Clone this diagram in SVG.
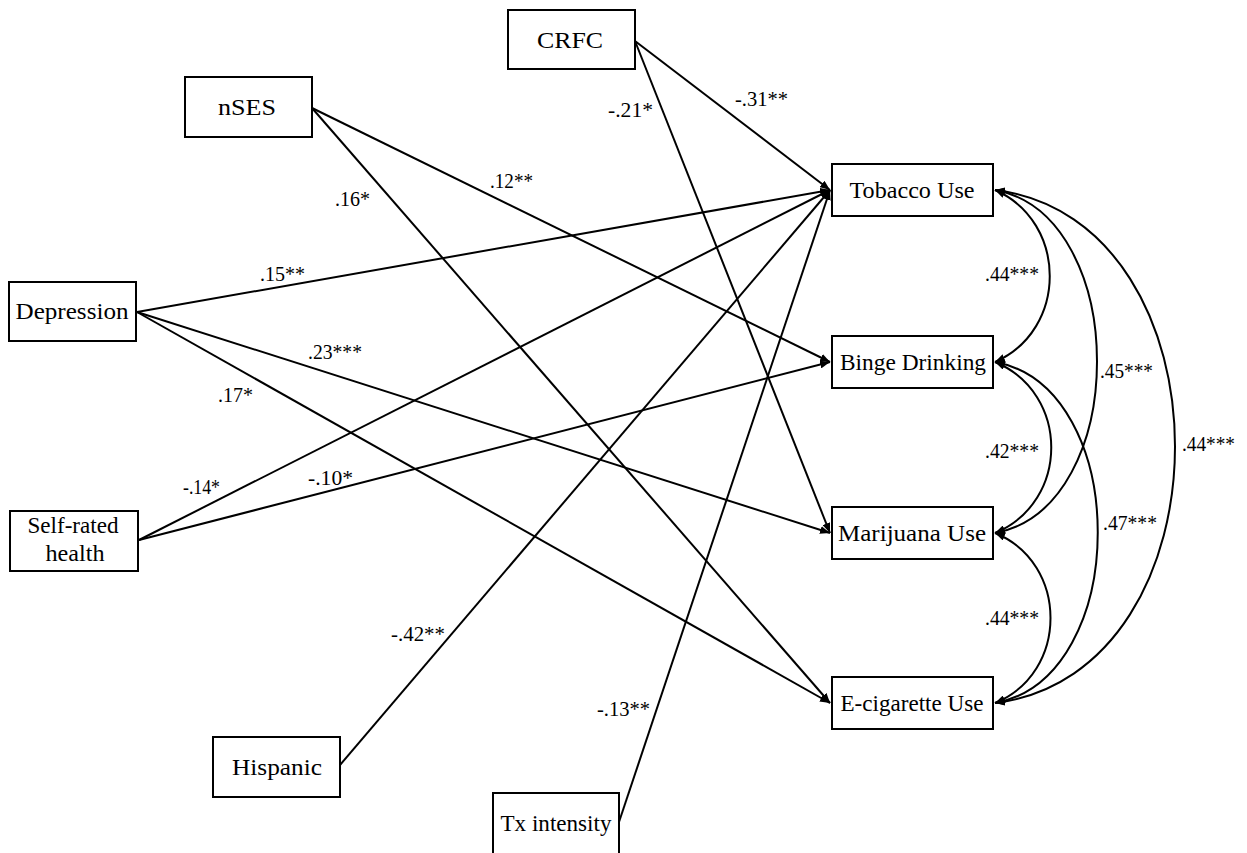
<svg xmlns="http://www.w3.org/2000/svg" width="1247" height="853" viewBox="0 0 1247 853">
<style>
.box{fill:#fff;stroke:#000;stroke-width:2}
.nt{font-family:"Liberation Serif","DejaVu Serif",serif;font-size:23px;fill:#000;text-anchor:middle}
.lb{font-family:"Liberation Serif","DejaVu Serif",serif;font-size:22px;fill:#000}
.ln{fill:none;stroke:#000;stroke-width:2}
</style>
<defs>
<marker id="ah" viewBox="0 0 10 8" refX="10" refY="4" markerWidth="10" markerHeight="8" markerUnits="userSpaceOnUse" orient="auto-start-reverse">
<path d="M0,0 L10,4 L0,8 z" fill="#000"/>
</marker>
</defs>
<rect width="1247" height="853" fill="#fff"/>
<g id="connectors">
<line class="ln" x1="312" y1="108" x2="830" y2="362" marker-end="url(#ah)"/>
<line class="ln" x1="312" y1="108" x2="830" y2="703" marker-end="url(#ah)"/>
<line class="ln" x1="635" y1="41" x2="830" y2="190" marker-end="url(#ah)"/>
<line class="ln" x1="635" y1="41" x2="830" y2="533" marker-end="url(#ah)"/>
<line class="ln" x1="137" y1="312" x2="830" y2="190" marker-end="url(#ah)"/>
<line class="ln" x1="137" y1="312" x2="830" y2="533" marker-end="url(#ah)"/>
<line class="ln" x1="137" y1="312" x2="830" y2="703" marker-end="url(#ah)"/>
<line class="ln" x1="139" y1="540" x2="830" y2="190" marker-end="url(#ah)"/>
<line class="ln" x1="139" y1="540" x2="830" y2="362" marker-end="url(#ah)"/>
<line class="ln" x1="340" y1="765" x2="830" y2="190" marker-end="url(#ah)"/>
<line class="ln" x1="619" y1="822" x2="830" y2="190" marker-end="url(#ah)"/>
<path class="ln" d="M995,190 C1068,222 1068,330 995,362" marker-start="url(#ah)" marker-end="url(#ah)"/>
<path class="ln" d="M995,362 C1070,393 1070,502 995,533" marker-start="url(#ah)" marker-end="url(#ah)"/>
<path class="ln" d="M995,533 C1069,563 1069,673 995,703" marker-start="url(#ah)" marker-end="url(#ah)"/>
<path class="ln" d="M995,190 C1131,215 1131,508 995,533" marker-start="url(#ah)" marker-end="url(#ah)"/>
<path class="ln" d="M995,362 C1132,387 1132,678 995,703" marker-start="url(#ah)" marker-end="url(#ah)"/>
<path class="ln" d="M995,190 C1235,220 1235,673 995,703" marker-start="url(#ah)" marker-end="url(#ah)"/>
</g>
<g id="labels">
<text class="lb" x="490" y="188" textLength="43" lengthAdjust="spacingAndGlyphs">.12**</text>
<text class="lb" x="335" y="206" textLength="35" lengthAdjust="spacingAndGlyphs">.16*</text>
<text class="lb" x="735" y="106" textLength="53" lengthAdjust="spacingAndGlyphs">-.31**</text>
<text class="lb" x="608" y="117" textLength="45" lengthAdjust="spacingAndGlyphs">-.21*</text>
<text class="lb" x="260" y="281" textLength="45" lengthAdjust="spacingAndGlyphs">.15**</text>
<text class="lb" x="308" y="359" textLength="54" lengthAdjust="spacingAndGlyphs">.23***</text>
<text class="lb" x="218" y="402" textLength="35" lengthAdjust="spacingAndGlyphs">.17*</text>
<text class="lb" x="183" y="494" textLength="37" lengthAdjust="spacingAndGlyphs">-.14*</text>
<text class="lb" x="308" y="485" textLength="45" lengthAdjust="spacingAndGlyphs">-.10*</text>
<text class="lb" x="391" y="641" textLength="54" lengthAdjust="spacingAndGlyphs">-.42**</text>
<text class="lb" x="597" y="716" textLength="53" lengthAdjust="spacingAndGlyphs">-.13**</text>
<text class="lb" x="985" y="281" textLength="54" lengthAdjust="spacingAndGlyphs">.44***</text>
<text class="lb" x="1100" y="378" textLength="53" lengthAdjust="spacingAndGlyphs">.45***</text>
<text class="lb" x="1182" y="451" textLength="53" lengthAdjust="spacingAndGlyphs">.44***</text>
<text class="lb" x="985" y="458" textLength="54" lengthAdjust="spacingAndGlyphs">.42***</text>
<text class="lb" x="1103" y="530" textLength="54" lengthAdjust="spacingAndGlyphs">.47***</text>
<text class="lb" x="985" y="625" textLength="54" lengthAdjust="spacingAndGlyphs">.44***</text>
</g>
<g id="nSES"><rect class="box" x="185" y="77" width="127" height="60"/><text class="nt" x="247" y="115" textLength="58" lengthAdjust="spacingAndGlyphs">nSES</text></g>
<g id="CRFC"><rect class="box" x="508" y="10" width="127" height="59"/><text class="nt" x="570" y="48" textLength="66" lengthAdjust="spacingAndGlyphs">CRFC</text></g>
<g id="Depression"><rect class="box" x="9" y="282" width="127" height="59"/><text class="nt" x="72" y="319" textLength="113" lengthAdjust="spacingAndGlyphs">Depression</text></g>
<g id="SelfRatedHealth"><rect class="box" x="10" y="511" width="128" height="60"/><text class="nt" x="73" y="533" textLength="91" lengthAdjust="spacingAndGlyphs">Self-rated</text><text class="nt" x="75" y="561" textLength="59" lengthAdjust="spacingAndGlyphs">health</text></g>
<g id="Hispanic"><rect class="box" x="213" y="737" width="127" height="60"/><text class="nt" x="277" y="775" textLength="90" lengthAdjust="spacingAndGlyphs">Hispanic</text></g>
<g id="TxIntensity"><rect class="box" x="493" y="793" width="126" height="70"/><text class="nt" x="556" y="831" textLength="111" lengthAdjust="spacingAndGlyphs">Tx intensity</text></g>
<g id="TobaccoUse"><rect class="box" x="832" y="164" width="161" height="52"/><text class="nt" x="912" y="198" textLength="125" lengthAdjust="spacingAndGlyphs">Tobacco Use</text></g>
<g id="BingeDrinking"><rect class="box" x="832" y="336" width="161" height="52"/><text class="nt" x="913" y="370" textLength="146" lengthAdjust="spacingAndGlyphs">Binge Drinking</text></g>
<g id="MarijuanaUse"><rect class="box" x="832" y="507" width="161" height="52"/><text class="nt" x="912" y="541" textLength="148" lengthAdjust="spacingAndGlyphs">Marijuana Use</text></g>
<g id="ECigaretteUse"><rect class="box" x="832" y="677" width="161" height="52"/><text class="nt" x="912" y="711" textLength="143" lengthAdjust="spacingAndGlyphs">E-cigarette Use</text></g>
</svg>
